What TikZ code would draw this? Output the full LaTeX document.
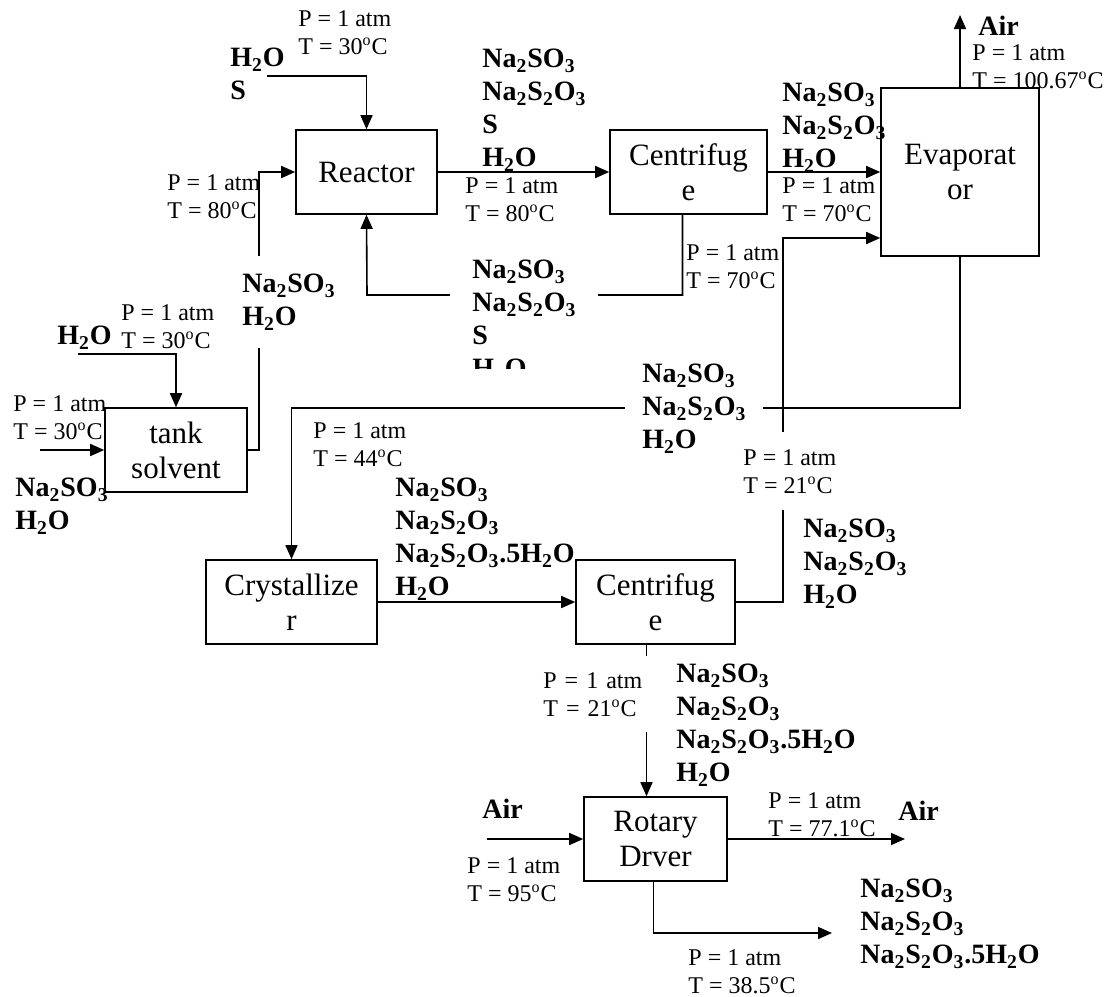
\documentclass[tikz,border=0pt]{standalone}
\usepackage{fontspec}
\setmainfont{Liberation Serif}
\usetikzlibrary{arrows.meta}
\newcommand{\sulf}{Na\textsubscript{2}SO\textsubscript{3}}
\newcommand{\thio}{Na\textsubscript{2}S\textsubscript{2}O\textsubscript{3}}
\newcommand{\penta}{\thio.5H\textsubscript{2}O}
\newcommand{\wat}{H\textsubscript{2}O}
\newcommand{\PTlab}[1]{P = 1 atm\\T = #1\textsuperscript{o}C}
\tikzset{
  vessel/.style={draw,line width=0.8pt,minimum width=#1,minimum height=42pt,
                 inner sep=0pt,align=center,font=\fontsize{15.5}{17.5}\selectfont},
  cond/.style={inner sep=0pt,anchor=north west,align=left,
               font=\fontsize{12}{14}\selectfont},
  comp/.style={inner sep=0pt,anchor=north west,align=left,
               font=\fontsize{14}{16.5}\selectfont\bfseries},
  whiteout/.style={fill=white},
  flow/.style={-{Triangle[length=7pt,width=6pt]},line width=0.8pt},
}
\begin{document}
\begin{tikzpicture}[x=0.5pt,y=-0.5pt]
  \useasboundingbox (0,0) rectangle (1111,996);
  % process units
  \node[vessel=70.5pt] (reactor) at (366.5,172) {Reactor};
  \node[vessel=78.5pt] (cent1) at (688.5,172) {Centrifug\\e};
  \node[vessel=79pt,minimum height=84pt] (evap) at (960,172) {Evaporat\\or};
  \node[vessel=71pt] (tank) at (176,450) {tank\\solvent};
  \node[vessel=85.5pt] (cryst) at (291.5,602) {Crystallize\\r};
  \node[vessel=79.5pt] (cent2) at (655.5,602) {Centrifug\\e};
  \node[vessel=71.5pt] (dryer) at (655.5,839) {Rotary\\Drver};

  % free stream ends
  \coordinate (feedS) at (267,76);
  \coordinate (feedW) at (78,354);
  \coordinate (feedNa) at (40,450);
  \coordinate (recyc) at (367,295);
  \coordinate (evBend) at (960,408);
  \coordinate (evIn) at ([yshift=-33pt]evap.west);
  \coordinate (airEv) at (960,15);
  \coordinate (airIn) at (487,839);
  \coordinate (airOut) at (905,839);
  \coordinate (prod) at (832,933);

  % streams
  \draw[flow] (feedS) -| (reactor.north);
  \draw[flow] (feedW) -| (tank.north);
  \draw[flow] (feedNa) -- (tank.west);
  \draw[flow] (tank.east) -- ++(11,0) |- (reactor.west);
  \draw[flow] (reactor.east) -- (cent1.west);
  \draw[flow] ([xshift=-3pt]cent1.south) |- (recyc) -- (reactor.south);
  \draw[flow] (cent1.east) -- (evap.west);
  \draw[flow] (evap.north) -- (airEv);
  \draw[flow] (evap.south) -- (evBend) -| (cryst.north);
  \draw[flow] (cryst.east) -- (cent2.west);
  \draw[flow] (cent2.east) -| ([xshift=-48.5pt]evIn) -- (evIn);
  \draw[flow] ([xshift=-4.5pt]cent2.south) -- ([xshift=-4.5pt]dryer.north);
  \draw[flow] (airIn) -- (dryer.west);
  \draw[flow] (dryer.east) -- (airOut);
  \draw[flow] ([xshift=-1pt]dryer.south) |- (prod);

  % stream contents
  \node[comp] (s1) at (230,48) {\wat\\S};
  \node[comp] (s2) at (482,49) {\sulf\\\thio\\S\\\wat};
  \begin{scope}
    \clip (440,240) rectangle (620,368);
    \node[comp,whiteout,inner xsep=11pt,inner ysep=1pt] (s3) at (450,258) {\sulf\\\thio\\S\\\wat};
  \end{scope}
  \node[comp] (s4) at (782,83) {\sulf\\\thio\\\wat};
  \node[comp,whiteout,inner xsep=1pt,inner ysep=9pt] (s5) at (240,256) {\sulf\\\wat};
  \node[comp] (s6) at (57,326) {\wat};
  \node[comp] (s7) at (15,478) {\sulf\\\wat};
  \node[comp,whiteout,inner xsep=8.5pt] (s8) at (625,364) {\sulf\\\thio\\\wat};
  \node[comp] (s9) at (395,478) {\sulf\\\thio\\\penta\\\wat};
  \node[comp] (s10) at (803,519) {\sulf\\\thio\\\wat};
  \node[comp] (s11) at (676,664) {\sulf\\\thio\\\penta\\\wat};
  \node[comp] (s12) at (860,879) {\sulf\\\thio\\\penta};
  \node[comp] (air1) at (978,16) {Air};
  \node[comp] (air2) at (482,799) {Air};
  \node[comp] (air3) at (898,801) {Air};

  % stream conditions
  \node[cond] (pt1) at (298,10) {\PTlab{30}};
  \node[cond] (pt2) at (167,174) {\PTlab{80}};
  \node[cond] (pt3) at (465,177) {\PTlab{80}};
  \node[cond] (pt4) at (686,244) {\PTlab{70}};
  \node[cond] (pt5) at (782,177) {\PTlab{70}};
  \node[cond] (pt6) at (972,44) {\PTlab{100.67}};
  \node[cond] (pt7) at (121,304) {\PTlab{30}};
  \node[cond] (pt8) at (13,395) {\PTlab{30}};
  \node[cond] (pt9) at (313,422) {\PTlab{44}};
  \node[cond,whiteout,inner xsep=2pt,inner ysep=8.5pt] (pt10) at (739,432) {\PTlab{21}};
  \node[cond,whiteout,inner ysep=8pt,text width=56pt] (pt11) at (543,656) {\PTlab{21}};
  \node[cond] (pt12) at (467,857) {\PTlab{95}};
  \node[cond] (pt13) at (768,792) {\PTlab{77.1}};
  \node[cond] (pt14) at (688,949) {\PTlab{38.5}};
\end{tikzpicture}
\end{document}
